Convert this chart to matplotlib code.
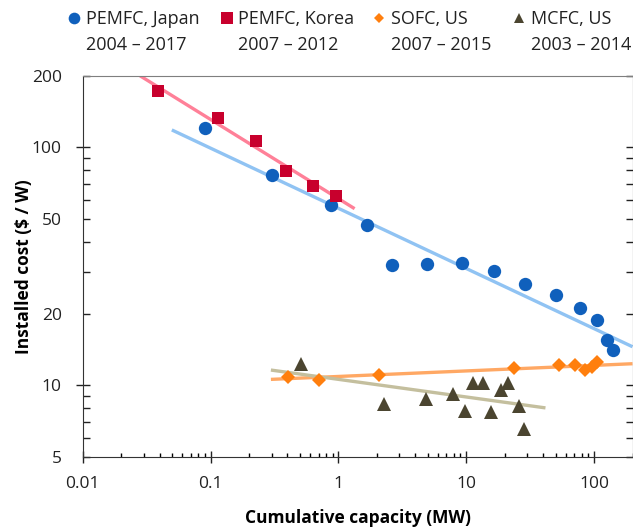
import matplotlib
matplotlib.use('Agg')
import matplotlib.pyplot as plt
from matplotlib.lines import Line2D
from matplotlib.ticker import FixedLocator, FuncFormatter
import numpy as np

plt.rcParams['font.family'] = ['Open Sans', 'DejaVu Sans']

# PEMFC, Japan 2004-2017 (cumulative MW, $/W)
jp_mw = [0.0912, 0.300, 0.880, 1.669, 2.63, 4.97, 9.34, 16.5, 29.1, 50.6, 78.0, 105.2, 126.5, 140.8]
jp_cost = [121.0, 76.1, 57.4, 47.3, 31.9, 32.4, 32.6, 30.3, 26.6, 24.0, 21.2, 18.8, 15.5, 14.0]

# PEMFC, Korea 2007-2012
kr_mw = [0.0387, 0.1141, 0.2263, 0.3888, 0.6324, 0.9576]
kr_cost = [172.9, 132.6, 106.3, 79.6, 68.8, 62.2]

# SOFC, US 2007-2015
sofc_mw = [0.403, 0.709, 2.08, 23.7, 53.2, 70.4, 84.3, 96.8, 105.9]
sofc_cost = [10.84, 10.47, 11.05, 11.76, 12.13, 12.2, 11.62, 11.95, 12.54]

# MCFC, US 2003-2014
mcfc_mw = [0.506, 2.29, 4.88, 7.84, 9.86, 11.3, 13.5, 15.6, 18.8, 21.1, 25.8, 28.2]
mcfc_cost = [12.23, 8.29, 8.75, 9.19, 7.77, 10.19, 10.19, 7.72, 9.53, 10.19, 8.15, 6.56]

# fitted trend lines, end points (x0, x1) and (y0, y1)
jp_fit_x = [0.0498, 200.0]
jp_fit_y = [118.3, 14.5]
kr_fit_x = [0.0272, 1.34]
kr_fit_y = [202.0, 55.2]
sofc_fit_x = [0.2967, 200.0]
sofc_fit_y = [10.57, 12.3]
mcfc_fit_x = [0.2967, 41.7]
mcfc_fit_y = [11.57, 8.02]

legend_names = ['PEMFC, Japan', 'PEMFC, Korea', 'SOFC, US', 'MCFC, US']
legend_years = ['2004 \u2013 2017', '2007 \u2013 2012', '2007 \u2013 2015', '2003 \u2013 2014']

x_ticks = [0.01, 0.1, 1, 10, 100]
x_ticklabels = ['0.01', '0.1', '1', '10', '100']
y_labelled = [5, 20, 50, 200]

c_jp, c_kr, c_sofc, c_mcfc = '#1060bc', '#c8002d', '#ff7f0e', '#4b4530'
l_jp, l_kr, l_sofc, l_mcfc = '#90c3f3', '#ff8098', '#ffa864', '#c4bf9e'

fig = plt.figure(figsize=(6.33, 5.31), dpi=100)
ax = fig.add_axes([82.7 / 633, 74.3 / 531, (632.5 - 82.7) / 633, 381.0 / 531])

ax.plot(jp_fit_x, jp_fit_y, color=l_jp, lw=2.4, solid_capstyle='butt', zorder=2)
ax.plot(kr_fit_x, kr_fit_y, color=l_kr, lw=2.4, solid_capstyle='butt', zorder=2)
ax.plot(sofc_fit_x, sofc_fit_y, color=l_sofc, lw=2.4, solid_capstyle='butt', zorder=2)
ax.plot(mcfc_fit_x, mcfc_fit_y, color=l_mcfc, lw=2.4, solid_capstyle='butt', zorder=2)

ax.plot(jp_mw, jp_cost, 'o', color=c_jp, ms=9.6, mew=0, zorder=3)
ax.plot(kr_mw, kr_cost, 's', color=c_kr, ms=9.0, mew=0, zorder=3)
ax.plot(sofc_mw, sofc_cost, 'D', color=c_sofc, ms=7.4, mew=0, zorder=3)
ax.plot(mcfc_mw, mcfc_cost, '^', color=c_mcfc, ms=9.5, mew=0, zorder=3)

ax.set_xscale('log')
ax.set_yscale('log')
ax.set_xlim(0.01, 200)
ax.set_ylim(5, 200)

ax.xaxis.set_major_locator(FixedLocator(x_ticks))
ax.xaxis.set_major_formatter(FuncFormatter(lambda v, p: x_ticklabels[x_ticks.index(v)] if v in x_ticks else ''))
x_minor = [m * 10.0 ** e for e in range(-2, 3) for m in range(2, 10)]
ax.xaxis.set_minor_locator(FixedLocator([v for v in x_minor if v <= 200]))
ax.xaxis.set_minor_formatter(FuncFormatter(lambda v, p: ''))

ax.yaxis.set_major_locator(FixedLocator([10, 100]))
ax.yaxis.set_major_formatter(FuncFormatter(lambda v, p: '%g' % v))
y_minor = [m * 10.0 ** e for e in range(0, 3) for m in range(2, 10)]
ax.yaxis.set_minor_locator(FixedLocator([v for v in y_minor if 5 <= v <= 200]))
ax.yaxis.set_minor_formatter(FuncFormatter(lambda v, p: '%g' % v if round(v) in y_labelled else ''))

ax.tick_params(axis='x', which='major', direction='inout', length=8, width=1, pad=10,
               labelsize=12.5, colors='#222222')
ax.tick_params(axis='x', which='minor', direction='in', length=3.2, width=1, top=False)
ax.tick_params(axis='y', which='major', direction='inout', length=9.4, width=1, pad=10.4,
               labelsize=12.5, colors='#222222', right=True)
ax.tick_params(axis='y', which='minor', direction='in', length=4.8, width=1, pad=15.1,
               labelsize=12.5, colors='#222222', right=True)

for side in ['left', 'bottom', 'right']:
    ax.spines[side].set_color('#333333')
ax.spines['top'].set_color('#7f7f7f')

ax.set_xlabel('Cumulative capacity (MW)', fontsize=12.5, fontweight='bold', labelpad=12)
ax.set_ylabel('Installed cost ($ / W)', fontsize=12.5, fontweight='bold', labelpad=-1)

# legend across the top
leg_marker_x = [74, 226.7, 379.3, 519.3]
leg_styles = [('o', c_jp, 8.4), ('s', c_kr, 8.2), ('D', c_sofc, 5.2), ('^', c_mcfc, 7.8)]
for i, name in enumerate(legend_names):
    mx = leg_marker_x[i] / 633
    mk, col, size = leg_styles[i]
    fig.add_artist(Line2D([mx], [1 - 18.3 / 531], marker=mk, color=col, ms=size, mew=0,
                          transform=fig.transFigure))
    tx = mx + 11.5 / 633
    fig.text(tx, 1 - 18.5 / 531, name, fontsize=13, color='#222222', va='center', ha='left')
    fig.text(tx, 1 - 44.5 / 531, legend_years[i], fontsize=13, color='#222222', va='center', ha='left')

fig.savefig('out.png', dpi=100)
